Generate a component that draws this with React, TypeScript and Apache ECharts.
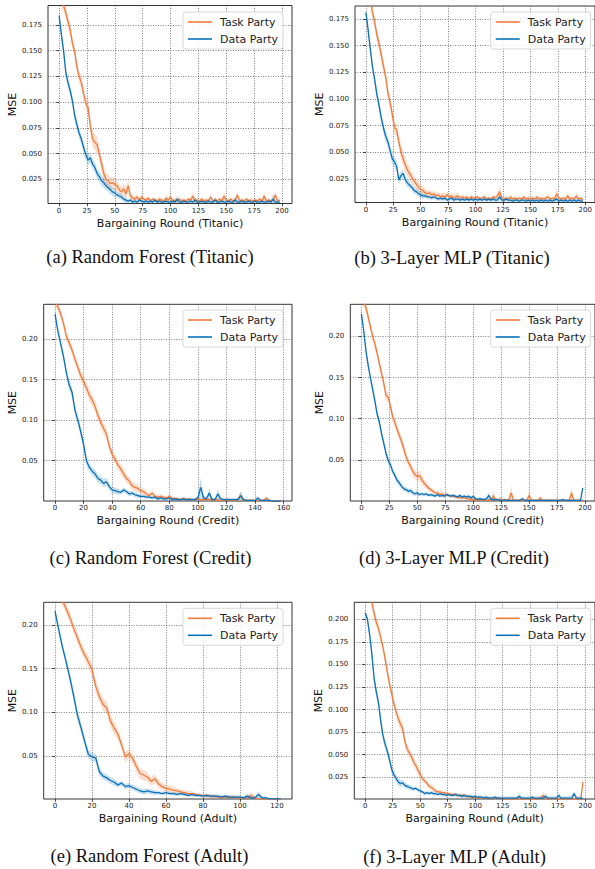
import React, { useEffect, useRef } from "react";
import * as echarts from "echarts";

// Bargaining rounds (step 2)
const ROUNDS = [0,2,4,6,8,10,12,14,16,18,20,22,24,26,28,30,32,34,36,38,40,42,44,46,48,50,52,54,56,58,60,62,64,66,68,70,72,74,76,78,80,82,84,86,88,90,92,94,96,98,100,102,104,106,108,110,112,114,116,118,120,122,124,126,128,130,132,134,136,138,140,142,144,146,148,150,152,154,156,158,160,162,164,166,168,170,172,174,176,178,180,182,184,186,188,190,192,194,196,198];
const ROUNDS_CREDIT_RF = ROUNDS.slice(0, 80);
const ROUNDS_ADULT_RF = ROUNDS.slice(0, 62);

// Tick labels
const X_TICKS_200 = [0, 25, 50, 75, 100, 125, 150, 175, 200];
const X_TICKS_160 = [0, 20, 40, 60, 80, 100, 120, 140, 160];
const X_TICKS_120 = [0, 20, 40, 60, 80, 100, 120];
const Y_TICKS_FINE = [0.025, 0.05, 0.075, 0.1, 0.125, 0.15, 0.175, 0.2];
const Y_TICKS_COARSE = [0.05, 0.1, 0.15, 0.2];

// MSE values (x1000) and band half-widths (x1000)
// (a) Random Forest (Titanic)
const A_TASK = [206,199,194,187,178,170,157,149,134,125,119,108,99,95,77,65,61,59,50,41,31,25,24,21,22,20,19,15,13,16,11,19,9,7,6,8,5,8,6,5,7,4,6,5,4,6,5,4,7,5,8,4,5,4,6,4,5,4,6,5,9,4,5,4,6,4,5,4,8,4,5,4,6,4,9,5,4,6,4,5,10,4,5,4,6,4,5,4,5,4,6,4,9,4,5,4,5,10,4,5];
const A_TASK_BAND = [6,6,6,6,6,6,6,6,6,6,6,6,6,7,8,8,8,8,7,7,7,6,6,6,6,6,5,5,5,6,5,6,4,3,3,3,2,3,2,2,3,2,2,2,2,2,2,2,3,2,4,2,2,2,2,2,2,2,2,2,4,2,2,2,2,2,2,2,3,2,2,2,2,2,4,2,2,2,2,2,4,2,2,2,2,2,2,2,2,2,2,2,4,2,2,2,2,4,2,2];
const A_DATA = [184,166,150,129,119,111,101,87,78,70,64,56,49,44,46,40,37,31,28,24,22,19,17,15,13,12,10,9,8,6,5,4,5,3,4,3,5,4,3,4,3,4,3,5,3,4,3,3,4,3,3,4,3,6,3,3,4,3,3,4,3,5,3,3,4,3,3,4,3,3,5,3,3,4,3,3,4,3,3,5,3,3,4,3,3,4,3,3,4,3,3,4,3,3,4,3,6,3,3,3];
const A_DATA_BAND = [4,5,5,5,5,5,5,5,5,5,5,5,5,5,5,5,5,5,5,5,5,4,4,4,4,4,3,3,3,3,3,2,2,2,2,2,2,2,2,2,2,2,2,2,2,2,2,2,2,2,2,2,2,3,2,2,2,2,2,2,2,3,2,2,2,2,2,2,2,2,3,2,2,2,2,2,2,2,2,3,2,2,2,2,2,2,2,2,2,2,2,2,2,2,2,2,5,2,2,2];

// (b) 3-Layer MLP (Titanic)
const B_TASK = [215,204,193,181,172,160,152,141,131,121,106,97,86,73,71,60,50,44,38,33,30,26,23,20,17,15,14,12,11,12,10,11,9,10,8,9,8,10,8,9,7,8,9,7,8,7,8,6,8,7,7,8,6,7,8,6,7,6,8,7,9,13,7,6,7,6,8,6,7,6,7,6,8,6,7,6,7,6,8,6,7,6,7,8,6,7,6,11,7,6,7,6,9,6,7,6,9,6,7,5];
const B_TASK_BAND = [6,6,6,6,6,6,6,6,6,6,6,6,6,6,6,6,7,7,7,6,6,6,5,5,5,4,4,4,3,3,3,3,3,3,3,3,3,3,3,3,3,3,3,2,2,2,2,2,2,2,2,2,2,2,2,2,2,2,2,2,3,6,2,2,2,2,2,2,2,2,2,2,2,2,2,2,2,2,2,2,2,2,2,3,2,2,2,5,2,2,2,2,3,2,2,2,3,2,2,2];
const B_DATA = [181,165,147,130,118,104,94,82,73,65,60,52,44,41,37,24,28,30,24,21,19,17,14,13,11,10,9,9,8,8,7,8,7,6,7,6,7,5,6,7,5,6,6,5,6,5,6,5,6,5,6,5,6,5,6,5,6,5,6,5,5,8,5,5,6,5,5,4,5,5,4,5,5,4,5,4,5,4,5,4,5,4,5,4,5,4,5,6,4,5,4,5,4,5,4,5,4,5,4,4];
const B_DATA_BAND = [4,5,5,5,5,5,5,5,5,5,5,5,5,5,5,4,4,4,4,4,3,3,3,3,3,3,3,2,2,2,2,2,2,2,2,2,2,2,2,2,2,2,2,2,2,2,2,2,2,2,2,2,2,2,2,2,2,2,2,2,2,3,2,2,2,2,2,2,2,2,2,2,2,2,2,2,2,2,2,2,2,2,2,2,2,2,2,2,2,2,2,2,2,2,2,2,2,2,2,2];

// (c) Random Forest (Credit)
const C_TASK = [246,240,231,219,203,195,186,175,165,155,148,140,131,125,117,106,97,90,83,68,58,52,45,40,34,28,25,19,17,16,13,12,9,7,10,6,5,6,5,4,6,4,3,3,2,3,2,3,2,2,3,2,2,2,2,2,1,2,1,1,2,1,1,1,2,7,1,1,1,1,1,1,1,1,4,1,0,0,0,0];
const C_TASK_BAND = [6,6,6,6,6,6,6,6,6,7,7,7,7,7,7,7,7,7,7,7,6,6,6,6,6,5,5,5,5,5,4,4,4,3,4,3,3,3,2,2,3,2,2,2,2,2,2,2,2,2,2,2,2,2,2,2,2,2,2,2,2,2,2,2,2,6,2,1,1,1,1,1,1,1,3,1,1,1,1,1];
const C_DATA = [231,210,194,178,158,143,134,112,100,86,70,50,42,37,34,28,26,22,24,18,14,13,12,11,14,12,9,10,8,7,6,6,5,5,4,5,3,4,3,3,4,2,3,2,2,3,2,2,2,2,4,17,4,3,10,2,2,9,3,2,2,2,2,2,2,7,2,1,1,1,1,4,1,1,1,1,0,0,0,0];
const C_DATA_BAND = [4,5,5,5,5,6,6,6,6,6,6,6,5,5,5,5,5,5,5,4,4,4,4,3,3,3,3,3,3,3,2,2,2,2,2,2,2,2,2,2,2,2,2,2,2,2,2,2,2,2,3,12,4,2,7,2,2,6,2,2,2,2,2,2,2,5,2,1,1,1,1,3,1,1,1,1,1,1,1,1];

// (d) 3-Layer MLP (Credit)
const D_TASK = [250,242,235,224,212,200,191,180,167,155,143,128,126,115,102,95,87,79,72,63,54,47,42,36,32,30,31,26,22,19,16,14,12,10,10,8,9,7,8,7,6,6,5,5,4,4,4,3,3,2,2,2,1,2,1,1,1,2,1,7,1,1,3,1,1,1,2,10,1,1,1,1,1,1,1,7,1,1,1,1,4,1,1,1,1,1,1,1,1,1,1,1,1,1,10,1,1,1,1,1];
const D_TASK_BAND = [6,6,6,6,6,6,6,6,6,6,6,6,6,6,6,6,6,6,6,6,6,5,5,5,5,6,6,6,5,4,4,3,3,3,3,3,3,3,3,2,2,2,2,2,2,2,2,2,2,2,2,2,2,2,2,2,2,2,2,6,2,2,3,2,2,2,2,9,2,2,2,2,2,2,2,7,2,2,2,2,3,2,2,2,2,2,2,2,2,2,2,2,2,2,8,2,2,2,2,2];
const D_DATA = [227,207,183,165,150,136,122,106,96,82,70,58,49,44,36,31,25,22,18,15,14,12,13,10,9,10,8,9,8,9,7,8,7,6,8,6,7,6,8,7,6,7,6,5,7,5,6,5,6,4,6,3,2,3,2,2,3,7,2,2,2,2,1,1,2,1,1,1,1,1,1,1,3,1,1,1,1,1,1,1,1,1,1,1,1,1,1,1,1,1,2,1,1,1,1,1,1,1,1,16];
const D_DATA_BAND = [4,5,5,5,5,5,5,5,5,5,5,5,5,5,4,4,4,4,3,3,3,3,3,3,3,3,2,2,2,2,2,2,2,2,2,2,2,2,2,2,2,2,2,2,2,2,2,2,2,2,2,2,2,2,2,2,2,4,2,2,1,1,1,1,1,1,1,1,1,1,1,1,2,1,1,1,1,1,1,1,1,1,1,1,1,1,1,1,1,1,1,1,1,1,1,1,1,1,1,1];

// (e) Random Forest (Adult)
const E_TASK = [242,236,228,219,209,197,186,175,166,158,149,130,118,109,105,90,82,75,63,49,53,47,38,30,28,26,21,24,18,15,13,12,11,10,9,8,7,7,6,5,5,4,4,4,3,3,3,3,3,2,2,2,2,5,2,1,1,1,1,1,1,1];
const E_TASK_BAND = [6,6,6,6,6,6,6,6,6,7,7,7,7,7,7,7,7,6,6,6,6,6,6,6,6,5,5,5,5,4,4,4,4,3,3,3,3,3,2,2,2,2,2,2,2,2,2,2,2,2,2,2,2,4,2,1,1,1,1,1,1,1];
const E_DATA = [216,195,175,158,140,120,98,83,67,52,49,48,32,27,25,22,20,17,19,15,16,14,12,10,9,10,9,8,8,7,8,7,7,6,7,6,5,6,5,5,4,5,4,4,4,3,4,3,3,3,3,2,4,2,2,6,2,2,1,1,1,1];
const E_DATA_BAND = [4,5,5,5,6,6,6,6,6,5,5,5,5,4,4,4,4,3,3,3,3,3,3,3,3,3,3,3,2,2,2,2,2,2,2,2,2,2,2,2,2,2,2,2,2,2,2,2,2,2,2,2,3,2,2,4,2,2,1,1,1,1];

// (f) 3-Layer MLP (Adult)
const F_TASK = [245,237,228,219,207,197,190,180,170,157,142,129,118,107,98,90,84,79,65,57,52,48,42,38,33,28,24,21,19,15,14,12,10,9,9,8,8,7,7,6,6,6,5,5,5,5,4,4,3,3,3,2,3,2,2,2,2,2,2,2,2,2,1,2,1,1,1,1,1,1,2,1,1,1,1,1,1,1,1,1,3,5,1,1,1,1,1,1,1,1,1,1,1,1,1,1,1,1,1,20];
const F_TASK_BAND = [6,6,6,6,6,6,6,6,6,6,6,6,6,6,6,6,6,6,6,5,5,5,5,5,5,4,4,3,3,3,3,3,2,2,2,2,2,2,2,2,2,2,2,2,2,2,2,2,2,2,1,1,1,1,1,1,1,1,1,1,1,1,1,1,1,1,1,1,1,1,2,1,1,1,1,1,1,1,1,1,2,4,1,1,1,1,1,1,1,1,1,1,1,1,1,1,1,1,1,4];
const F_DATA = [207,200,183,162,135,120,108,88,72,62,54,45,34,28,24,20,18,19,16,15,14,13,12,13,11,10,9,7,8,7,8,7,7,6,7,6,6,5,6,5,5,6,5,5,4,5,4,4,4,3,4,3,3,3,2,3,2,2,2,3,2,2,2,2,2,2,2,2,2,2,4,2,2,2,2,2,3,2,2,2,2,2,4,2,2,2,2,2,5,2,2,2,2,2,2,7,2,2,2,1];
const F_DATA_BAND = [4,5,5,6,6,6,6,6,6,5,5,5,5,5,4,4,4,3,3,3,3,3,2,2,2,2,2,2,2,2,2,2,2,2,2,2,2,2,2,2,2,2,2,2,2,2,2,2,2,2,2,2,2,2,2,2,2,2,2,2,2,2,2,2,2,2,2,2,2,2,3,2,2,2,2,2,2,2,2,2,2,2,3,2,2,2,2,2,4,2,2,2,2,2,5,2,2,2,2,2];

const ORANGE = "#ef7b3c";
const BLUE = "#0b72b8";
const ORANGE_BAND = "rgba(239,123,60,0.25)";
const BLUE_BAND = "rgba(11,114,184,0.22)";
const FONT = "'DejaVu Sans', sans-serif";

const PANELS = [
  { rounds: ROUNDS, task: A_TASK, taskBand: A_TASK_BAND, data: A_DATA, dataBand: A_DATA_BAND,
    xMin: -9.95, xMax: 208.95, xStep: 25, xTicks: X_TICKS_200,
    yMin: 0.0017, yMax: 0.1938, yStep: 0.025, yTicks: Y_TICKS_FINE, yDec: 3,
    xName: "Bargaining Round (Titanic)", caption: "(a) Random Forest (Titanic)",
    grid: { left: 48, top: 5.5, width: 244, height: 198 }, yGap: 28,
    legend: [183, 12], cap: [150, 257] },
  { rounds: ROUNDS, task: B_TASK, taskBand: B_TASK_BAND, data: B_DATA, dataBand: B_DATA_BAND,
    xMin: -9.95, xMax: 208.95, xStep: 25, xTicks: X_TICKS_200,
    yMin: 0.0028, yMax: 0.1872, yStep: 0.025, yTicks: Y_TICKS_FINE, yDec: 3,
    xName: "Bargaining Round (Titanic)", caption: "(b) 3-Layer MLP (Titanic)",
    grid: { left: 355, top: 6, width: 243, height: 196.5 }, yGap: 27.5,
    legend: [490.7, 12], cap: [452, 258] },
  { rounds: ROUNDS_CREDIT_RF, task: C_TASK, taskBand: C_TASK_BAND, data: C_DATA, dataBand: C_DATA_BAND,
    xMin: -7.9, xMax: 165.9, xStep: 20, xTicks: X_TICKS_160,
    yMin: 0.0003, yMax: 0.2428, yStep: 0.05, yTicks: Y_TICKS_COARSE, yDec: 2,
    xName: "Bargaining Round (Credit)", caption: "(c) Random Forest (Credit)",
    grid: { left: 43.7, top: 304.3, width: 248.3, height: 196.7 }, yGap: 24,
    legend: [183, 310], cap: [150.5, 558] },
  { rounds: ROUNDS, task: D_TASK, taskBand: D_TASK_BAND, data: D_DATA, dataBand: D_DATA_BAND,
    xMin: -9.95, xMax: 208.95, xStep: 25, xTicks: X_TICKS_200,
    yMin: 0.0002, yMax: 0.2388, yStep: 0.05, yTicks: Y_TICKS_COARSE, yDec: 2,
    xName: "Bargaining Round (Credit)", caption: "(d) 3-Layer MLP (Credit)",
    grid: { left: 350.3, top: 304.3, width: 247.2, height: 196.7 }, yGap: 23.5,
    legend: [490.7, 310], cap: [454, 558] },
  { rounds: ROUNDS_ADULT_RF, task: E_TASK, taskBand: E_TASK_BAND, data: E_DATA, dataBand: E_DATA_BAND,
    xMin: -6.1, xMax: 128.1, xStep: 20, xTicks: X_TICKS_120,
    yMin: 0.0008, yMax: 0.226, yStep: 0.05, yTicks: Y_TICKS_COARSE, yDec: 2,
    xName: "Bargaining Round (Adult)", caption: "(e) Random Forest (Adult)",
    grid: { left: 43.7, top: 602.3, width: 248.3, height: 196.7 }, yGap: 24,
    legend: [183, 608.3], cap: [149.5, 856] },
  { rounds: ROUNDS, task: F_TASK, taskBand: F_TASK_BAND, data: F_DATA, dataBand: F_DATA_BAND,
    xMin: -9.95, xMax: 208.95, xStep: 25, xTicks: X_TICKS_200,
    yMin: 0.001, yMax: 0.2188, yStep: 0.025, yTicks: Y_TICKS_FINE, yDec: 3,
    xName: "Bargaining Round (Adult)", caption: "(f) 3-Layer MLP (Adult)",
    grid: { left: 354.3, top: 602.3, width: 243.2, height: 196.7 }, yGap: 27,
    legend: [490.7, 608.3], cap: [454.5, 857] },
];

function buildOption() {
  const grids: any[] = [];
  const xAxes: any[] = [];
  const yAxes: any[] = [];
  const series: any[] = [];
  const legends: any[] = [];
  const graphics: any[] = [];

  const splitLine = { show: true, lineStyle: { color: "#4a4a4a", width: 0.7, type: [1, 1.5] } };

  PANELS.forEach((p, i) => {
    grids.push({ ...p.grid, show: true, backgroundColor: "transparent", borderColor: "#000", borderWidth: 0.8, containLabel: false });
    xAxes.push({
      type: "value", gridIndex: i, min: p.xMin, max: p.xMax,
      minInterval: p.xStep, maxInterval: p.xStep,
      name: p.xName, nameLocation: "middle", nameGap: 14,
      nameTextStyle: { fontFamily: FONT, fontSize: 11, color: "#111" },
      axisLine: { show: false },
      axisTick: { show: true, inside: false, length: 2.8, lineStyle: { color: "#000", width: 0.7 }, customValues: p.xTicks },
      axisLabel: { show: true, fontFamily: FONT, fontSize: 7, color: "#222", margin: 3.5, customValues: p.xTicks,
        formatter: (v: number) => String(Math.round(v)) },
      splitLine,
    });
    const yTicks = p.yTicks.filter((t) => t >= p.yMin && t <= p.yMax);
    yAxes.push({
      type: "value", gridIndex: i, min: p.yMin, max: p.yMax,
      minInterval: p.yStep, maxInterval: p.yStep,
      name: "MSE", nameLocation: "middle", nameGap: p.yGap,
      nameTextStyle: { fontFamily: FONT, fontSize: 11, color: "#111" },
      axisLine: { show: false },
      axisTick: { show: true, inside: false, length: 2.8, lineStyle: { color: "#000", width: 0.7 }, customValues: yTicks },
      axisLabel: { show: true, fontFamily: FONT, fontSize: 7, color: "#222", margin: 6, customValues: yTicks,
        formatter: (v: number) => v.toFixed(p.yDec) },
      splitLine,
    });

    const addSeries = (name: string, vals: number[], band: number[], color: string, bandColor: string, zBand: number, zLine: number) => {
      series.push({
        type: "custom", name: `${name}-band-${i}`, xAxisIndex: i, yAxisIndex: i, clip: true, silent: true, z: zBand,
        data: [[p.rounds[0], vals[0] / 1000]],
        renderItem: (_params: any, api: any) => {
          const upper = p.rounds.map((x, k) => api.coord([x, (vals[k] + band[k]) / 1000]));
          const lower = p.rounds.map((x, k) => api.coord([x, (vals[k] - band[k]) / 1000])).reverse();
          return { type: "polygon", shape: { points: upper.concat(lower) }, style: { fill: bandColor, stroke: "none" } };
        },
      });
      series.push({
        type: "line", name, xAxisIndex: i, yAxisIndex: i, color,
        data: p.rounds.map((x, k) => [x, vals[k] / 1000]),
        symbol: "none", showSymbol: false, lineStyle: { color, width: 1.3 }, z: zLine,
      });
    };
    addSeries("Task Party", p.task, p.taskBand, ORANGE, ORANGE_BAND, 2, 4);
    addSeries("Data Party", p.data, p.dataBand, BLUE, BLUE_BAND, 3, 5);

    legends.push({
      data: ["Task Party", "Data Party"], orient: "vertical", left: p.legend[0], top: p.legend[1],
      padding: [4.5, 5, 4.5, 5], itemGap: 6, itemWidth: 24, itemHeight: 1.6, icon: "rect",
      selectedMode: false,
      textStyle: { fontFamily: FONT, fontSize: 11, color: "#222", padding: [0, 0, 0, 3] },
      backgroundColor: "rgba(255,255,255,0.85)", borderColor: "#cfcfcf", borderWidth: 0.8, borderRadius: 3,
      z: 10,
    });

    graphics.push({
      type: "text", x: p.cap[0], y: p.cap[1],
      style: {
        text: p.caption, fontFamily: "'Liberation Serif', 'DejaVu Serif', serif", fontSize: 18.5, fill: "#111",
        align: "center", verticalAlign: "middle", textAlign: "center", textVerticalAlign: "middle",
      },
    });
  });

  return {
    animation: false,
    backgroundColor: "#fff",
    grid: grids,
    xAxis: xAxes,
    yAxis: yAxes,
    series,
    legend: legends,
    graphic: graphics,
  };
}

export default function App() {
  const ref = useRef<HTMLDivElement>(null);
  useEffect(() => {
    if (!ref.current) return;
    const chart = echarts.init(ref.current, undefined, { renderer: "svg" });
    chart.setOption(buildOption() as any);
    return () => chart.dispose();
  }, []);
  return (
    <div
      ref={ref}
      style={{ position: "absolute", left: 0, top: 0, width: 595, height: 869, background: "#fff" }}
    />
  );
}
